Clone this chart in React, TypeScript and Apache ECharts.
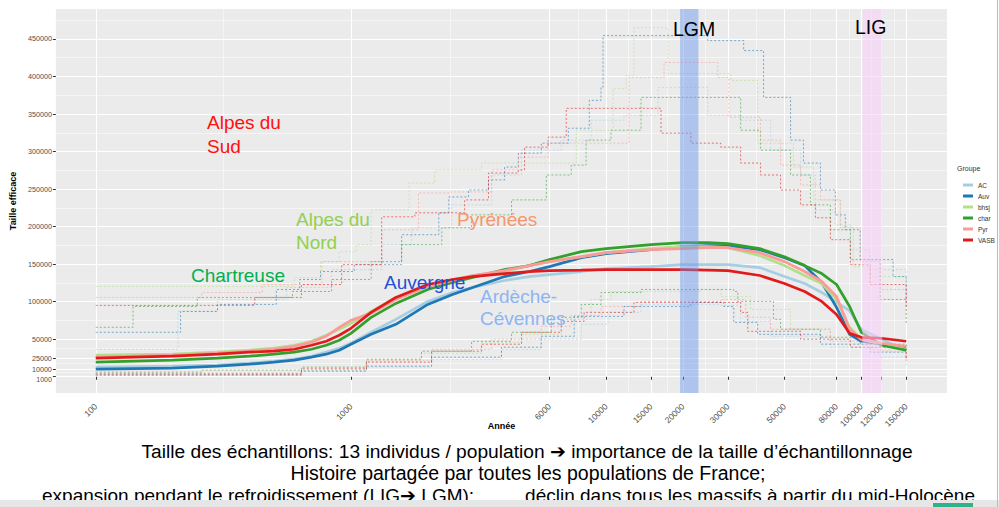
import React, { useEffect, useRef } from "react";
import * as echarts from "echarts";

const FONT = "'Liberation Sans', Arial, sans-serif";

const groups = ["AC", "Auv", "bhsj", "char", "Pyr", "VASB"];
const groupColors = ["#A6CEE3", "#1F78B4", "#B2DF8A", "#33A02C", "#FB9A99", "#E31A1C"];

const xTickYears = [100, 1000, 6000, 10000, 15000, 20000, 30000, 50000, 80000, 100000, 120000, 150000];
const yTickValues = [10000, 25000, 50000, 100000, 150000, 200000, 250000, 300000, 350000, 400000, 450000];
const yLowTick = [1000];
const yMinorValues = [5500, 17500, 37500, 75000, 125000, 175000, 225000, 275000, 325000, 375000, 425000, 475000];

const LGM = [19500, 23000];
const LIG = [101000, 120800];

const medianYears = [100, 200, 300, 400, 500, 600, 700, 800, 900, 1000, 1200, 1500, 2000, 2500, 3000, 4000, 5000, 6000, 8000, 10000, 15000, 20000, 25000, 30000, 40000, 50000, 60000, 70000, 80000, 90000, 100000, 120000, 150000];

const medianAC = [12900, 14200, 15500, 18200, 20800, 23500, 27400, 32800, 38100, 44700, 59300, 76500, 100400, 112300, 118900, 128200, 133500, 136200, 140200, 144100, 146800, 149400, 149400, 149400, 145500, 133500, 124200, 112300, 99100, 88000, 63300, 50000, 34100];
const medianAuv = [10200, 11500, 14200, 16800, 19500, 22100, 26100, 30100, 35400, 43400, 56600, 69900, 96400, 109700, 118900, 133500, 140200, 146800, 158700, 164000, 169300, 173300, 174600, 174600, 169300, 158700, 148100, 125600, 92400, 56600, 47300, 43400, 39400];
const medianBhsj = [28800, 30100, 32800, 35400, 38100, 42000, 47300, 55300, 63300, 71200, 87100, 105700, 120300, 129600, 134900, 140200, 148100, 153400, 160000, 165400, 170700, 173300, 173300, 172000, 161400, 148100, 134900, 124200, 103000, 65900, 50000, 43400, 36700];
const medianChar = [19500, 22100, 24800, 27400, 30100, 32800, 36700, 42000, 48700, 57900, 79200, 97700, 116300, 125600, 132200, 142800, 148100, 156100, 166700, 170700, 176000, 178600, 178600, 177300, 170700, 160000, 148100, 137500, 122900, 93700, 59300, 42000, 35400];
const medianPyr = [26100, 28800, 31400, 34100, 36700, 40700, 46000, 54000, 65900, 75200, 84500, 103000, 120300, 128200, 134900, 141500, 148100, 153400, 160000, 165400, 169300, 170700, 172000, 172000, 165400, 153400, 140200, 126900, 107000, 63300, 50000, 44700, 40700];
const medianVASB = [24800, 27400, 30100, 32800, 34100, 36700, 42000, 47300, 55300, 64600, 85800, 105700, 122900, 129600, 133500, 137500, 140200, 141500, 142100, 142800, 142800, 142800, 142100, 141500, 134900, 124200, 113600, 100400, 83100, 57900, 52600, 51300, 47300];

// 97.5% bounds (stairway steps: [year, Ne])
const upperAC = [[100, 36700], [210, 87100], [300, 103000], [560, 118900], [840, 142800], [1320, 176000], [1730, 198500], [2480, 229000], [3560, 268800], [4660, 301900], [6670, 315200], [8740, 341700], [11750, 348300], [15960, 385500], [25010, 348300], [33670, 341700], [44130, 301900], [57820, 268800], [66100, 222400], [79120, 202500], [90570, 169300], [108400, 142800], [150000, 96400]];
const upperAuv = [[100, 59300], [215, 87100], [300, 96400], [510, 116300], [630, 129600], [760, 140200], [1030, 149400], [1580, 189200], [2210, 218400], [2420, 239600], [2890, 248900], [3460, 262200], [4000, 279400], [4530, 297900], [5570, 311200], [7110, 331100], [8590, 368200], [9550, 385500], [9730, 454400], [25010, 447800], [34600, 434500], [41420, 372200], [52840, 315200], [59350, 284700], [69170, 248900], [79120, 215700], [86590, 195900], [99100, 156100], [133300, 133500], [150000, 103000]];
const upperBhsj = [[100, 120300], [600, 132200], [760, 153400], [900, 166700], [1050, 176000], [1200, 222400], [1690, 258200], [2130, 275400], [3250, 284700], [7640, 328400], [10650, 384100], [11970, 401400], [12860, 465000], [17470, 404000], [30780, 394700], [39270, 311200], [54240, 279400], [64930, 235600], [82770, 199800], [93050, 146800], [108400, 133500], [150000, 129600]];
const upperChar = [[100, 65900], [140, 93700], [250, 105700], [590, 113600], [840, 129600], [1200, 153400], [1580, 176000], [2270, 198500], [2970, 215700], [4260, 235600], [5830, 268800], [7300, 282000], [8350, 315200], [10460, 328400], [13700, 372200], [33670, 328400], [40300, 301900], [52840, 268800], [63210, 229000], [75670, 195900], [90570, 156100], [118600, 103000], [150000, 69900]];
const upperPyr = [[100, 105700], [260, 112300], [450, 122900], [770, 153400], [1320, 195900], [1840, 244900], [2420, 246200], [3560, 275400], [4530, 292600], [5930, 311200], [12300, 398700], [16870, 418600], [27380, 398700], [30230, 345700], [40300, 315200], [48280, 282000], [57820, 255500], [69170, 235600], [82770, 198500], [99100, 153400], [118600, 116300], [150000, 79200]];
const upperVASB = [[100, 95100], [420, 105700], [640, 122900], [920, 149400], [1320, 213100], [1780, 218400], [2790, 235600], [3460, 271400], [4530, 275400], [4790, 305900], [5930, 319200], [6980, 357600], [16410, 324500], [21480, 311200], [28130, 305900], [33670, 284700], [40300, 268800], [48280, 248900], [57820, 229000], [66100, 211800], [75670, 182600], [90570, 149400], [108400, 122900], [150000, 93700]];

// 2.5% bounds
const lowerAC = [[100, 2300], [640, 7600], [1150, 12900], [2070, 23500], [3890, 36700], [5570, 50000], [7990, 69900], [10180, 85800], [13700, 96400], [28130, 95100], [33670, 73900], [44130, 54000], [75670, 39400], [118600, 26100], [150000, 15500]];
const lowerAuv = [[100, 2300], [640, 7600], [1150, 14200], [2070, 26100], [3890, 39400], [5570, 54000], [7500, 80500], [11750, 93700], [21480, 99100], [28920, 93700], [31640, 72500], [39270, 56600], [69170, 43400], [108400, 32800], [150000, 23500]];
const lowerBhsj = [[100, 4900], [640, 11500], [1150, 20800], [1890, 31400], [3250, 46000], [4660, 56600], [6670, 76500], [8740, 103000], [10460, 113600], [23500, 116300], [28130, 107000], [36830, 89800], [52840, 63300], [75670, 50000], [108400, 36700], [150000, 26100]];
const lowerChar = [[100, 6200], [260, 8900], [640, 12900], [1150, 23500], [1890, 34100], [2970, 47300], [4260, 59300], [6100, 79200], [7990, 96400], [9550, 112300], [13700, 116300], [31640, 113600], [32810, 100400], [45300, 76500], [48280, 63300], [69170, 52600], [99100, 43400], [150000, 32800]];
const lowerPyr = [[100, 4900], [640, 11500], [1150, 22100], [2070, 36700], [3560, 50000], [5570, 67200], [7300, 81800], [9550, 93700], [13700, 100400], [28130, 103000], [35240, 79200], [44130, 63300], [75670, 47300], [118600, 34100], [150000, 20800]];
const lowerVASB = [[100, 3600], [640, 10200], [1150, 19500], [2070, 34100], [3250, 43400], [4660, 59300], [6670, 73900], [8200, 85800], [12860, 99100], [33670, 85800], [35890, 60600], [57820, 50000], [90570, 39400], [150000, 23500]];

const medians = [medianAC, medianAuv, medianBhsj, medianChar, medianPyr, medianVASB];
const uppers = [upperAC, upperAuv, upperBhsj, upperChar, upperPyr, upperVASB];
const lowers = [lowerAC, lowerAuv, lowerBhsj, lowerChar, lowerPyr, lowerVASB];

const X_MIN = 2 - 40 / 256;
const X_MAX = 2 + 854 / 256;
const Y_MIN = -21600;
const Y_MAX = 489900;

const lx = (v: number) => Math.log10(v);

export default function App() {
  const ref = useRef<HTMLDivElement>(null);
  useEffect(() => {
    if (!ref.current) return;
    const chart = echarts.init(ref.current, undefined, { renderer: "svg" });

    const xMajor = xTickYears.map(lx);
    const xMinor: number[] = [];
    for (let i = 0; i < xMajor.length - 1; i++) xMinor.push((xMajor[i] + xMajor[i + 1]) / 2);

    const series: any[] = [];
    groups.forEach((g, i) => {
      [uppers[i], lowers[i]].forEach((arr, k) => {
        series.push({
          type: "line",
          name: g + (k ? " 2.5%" : " 97.5%"),
          data: arr.map(([yr, v]) => [lx(yr), v]),
          step: "end",
          symbol: "none",
          silent: true,
          z: 3,
          lineStyle: { color: groupColors[i], width: 0.9, type: [2, 2], opacity: 0.65 },
        });
      });
    });
    groups.forEach((g, i) => {
      series.push({
        type: "line",
        name: g,
        data: medianYears.map((yr, j) => [lx(yr), medians[i][j]]),
        symbol: "none",
        silent: true,
        z: 4,
        itemStyle: { color: groupColors[i] },
        lineStyle: { color: groupColors[i], width: 2.7 },
      });
    });
    series.push({
      type: "custom",
      name: "periods",
      silent: true,
      z: 6,
      data: [
        [lx(LGM[0]), lx(LGM[1]), Y_MIN, Y_MAX, 0],
        [lx(LIG[0]), lx(LIG[1]), Y_MIN, Y_MAX, 1],
      ],
      encode: { x: [0, 1], y: [2, 3] },
      renderItem: (params: any, api: any) => {
        const a = api.coord([api.value(0), api.value(3)]);
        const b = api.coord([api.value(1), api.value(2)]);
        return {
          type: "rect",
          shape: { x: a[0], y: a[1], width: b[0] - a[0], height: b[1] - a[1] },
          style: { fill: api.value(4) ? "rgba(250,205,250,0.55)" : "rgba(100,149,237,0.45)" },
        };
      },
    });

    const txt = (text: string, x: number, y: number, color: string, size = 19, extra: any = {}) => ({
      type: "text",
      x,
      y,
      z: 100,
      silent: true,
      style: { text, fill: color, font: `${size}px ${FONT}`, textAlign: "left", textVerticalAlign: "middle", ...extra },
    });

    const yLabel = {
      formatter: (v: number) => String(v),
      hideOverlap: false,
      fontSize: 7.2,
      lineHeight: 6.5,
      color: "#4D4D4D",
      margin: 4,
      fontFamily: FONT,
    };

    chart.setOption({
      animation: false,
      backgroundColor: "#ffffff",
      grid: { left: 53, top: 9, width: 894, height: 384, show: true, backgroundColor: "#EBEBEB", borderWidth: 0 },
      xAxis: [
        {
          type: "value",
          min: X_MIN,
          max: X_MAX,
          position: "bottom",
          axisLine: { show: false },
          axisTick: { show: true, length: 3, customValues: xMajor, lineStyle: { color: "#333333", width: 1 } },
          axisLabel: {
            customValues: xMajor,
            formatter: (v: number) => String(Math.round(Math.pow(10, v))),
            rotate: 45,
            fontSize: 8.5,
            color: "#4D4D4D",
            margin: 12,
            hideOverlap: false,
            fontFamily: FONT,
          },
          splitLine: { show: true, lineStyle: { color: "#FFFFFF", width: 1.1 } },
          name: "Année",
          nameLocation: "middle",
          nameGap: 28,
          nameMoveOverlap: false,
          nameTextStyle: { fontSize: 9, fontWeight: "bold", color: "#000", fontFamily: FONT },
        },
        {
          type: "value",
          min: X_MIN,
          max: X_MAX,
          position: "bottom",
          axisLine: { show: false },
          axisTick: { show: false, customValues: xMinor },
          axisLabel: { show: false },
          splitLine: { show: true, lineStyle: { color: "#FFFFFF", width: 0.5 } },
        },
      ],
      yAxis: [
        {
          type: "value",
          min: Y_MIN,
          max: Y_MAX,
          position: "left",
          axisLine: { show: false },
          axisTick: { show: true, length: 3, customValues: [...yLowTick, ...yTickValues], lineStyle: { color: "#333333", width: 1 } },
          axisLabel: { customValues: yTickValues, ...yLabel },
          splitLine: { show: true, lineStyle: { color: "#FFFFFF", width: 1.1 } },
          name: "Taille efficace",
          nameLocation: "middle",
          nameGap: 36,
          nameTextStyle: { fontSize: 9, fontWeight: "bold", color: "#000", fontFamily: FONT },
        },
        {
          type: "value",
          min: Y_MIN,
          max: Y_MAX,
          position: "left",
          offset: 0,
          axisLine: { show: false },
          axisTick: { show: false, customValues: yMinorValues },
          axisLabel: { customValues: yLowTick, ...yLabel, fontSize: 7, lineHeight: 6, verticalAlign: "top" },
          splitLine: { show: true, lineStyle: { color: "#FFFFFF", width: 0.5 } },
        },
      ],
      legend: {
        data: groups,
        orient: "vertical",
        left: 958,
        top: 176,
        icon: "rect",
        itemWidth: 10,
        itemHeight: 3,
        itemGap: 3,
        selectedMode: false,
        textStyle: { fontSize: 6.5, color: "#333", fontFamily: FONT, lineHeight: 8 },
      },
      series,
      graphic: [
        txt("Groupe", 957, 168, "#333", 7),
        txt("Alpes du", 207, 122, "#FF1010"),
        txt("Sud", 207, 146, "#FF1010"),
        txt("Alpes du", 296, 219, "#92D050"),
        txt("Nord", 296, 242, "#92D050"),
        txt("Pyrénées", 457, 219, "#F7966B"),
        txt("Chartreuse", 191, 275, "#00B050"),
        txt("Auvergne", 384, 282, "#2150D6"),
        txt("Ardèche-", 480, 296, "#8EB4F2"),
        txt("Cévennes", 480, 318, "#8EB4F2"),
        txt("LGM", 673, 29, "#000", 19.5),
        txt("LIG", 855, 27, "#000", 19.5),
        txt("Taille des échantillons: 13 individus / population ➔ importance de la taille d’échantillonnage", 527, 451, "#000", 19.2, { textAlign: "center" }),
        txt("Histoire partagée par toutes les populations de France;", 528, 473, "#000", 19.5, { textAlign: "center" }),
        txt("expansion pendant le refroidissement (LIG➔ LGM);", 42, 495, "#000", 19),
        txt("déclin dans tous les massifs à partir du mid-Holocène", 975, 495, "#000", 19, { textAlign: "right" }),
        { type: "rect", z: 101, silent: true, shape: { x: 0, y: 500, width: 999, height: 7 }, style: { fill: "#E6E6E6" } },
        { type: "rect", z: 102, silent: true, shape: { x: 933, y: 503, width: 40, height: 4 }, style: { fill: "#2DB38A" } },
        { type: "line", z: 102, silent: true, shape: { x1: 997.5, y1: 0, x2: 997.5, y2: 507 }, style: { stroke: "#BBBBBB", lineWidth: 1 } },
      ],
    });
    return () => chart.dispose();
  }, []);
  return <div ref={ref} style={{ position: "absolute", left: 0, top: 0, width: 999, height: 507 }} />;
}
